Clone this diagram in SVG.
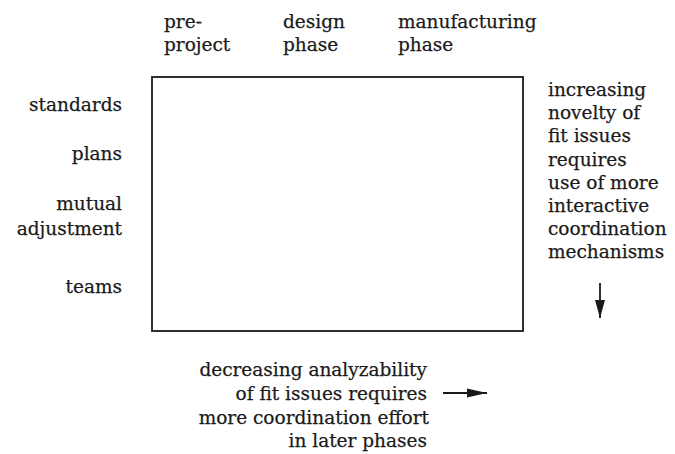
<svg xmlns="http://www.w3.org/2000/svg" width="675" height="454" viewBox="0 0 675 454">
<style>
text{font-family:"DejaVu Serif","Liberation Serif",serif;font-size:18.5px;fill:#1a1a1a;stroke:#1a1a1a;stroke-width:0.25}
.r{text-anchor:end}
.ln{stroke:#1a1a1a;stroke-width:1.8;fill:none}
</style>
<defs>
<marker id="ah" viewBox="0 0 18 11" refX="18" refY="5.5" markerWidth="18" markerHeight="11" markerUnits="userSpaceOnUse" orient="auto">
<path d="M0,0.5 L18,5.5 L0,10.5 Z" fill="#1a1a1a"/>
</marker>
<marker id="ah2" viewBox="0 0 20 10" refX="20" refY="5" markerWidth="20" markerHeight="10" markerUnits="userSpaceOnUse" orient="auto">
<path d="M0,0.5 L20,5 L0,9.5 Z" fill="#1a1a1a"/>
</marker>
</defs>
<g id="matrix">
<rect class="ln" x="152" y="77" width="371" height="254"/>
</g>
<g id="phases">
<text x="164" y="28">pre-</text>
<text x="164" y="51">project</text>
<text x="283" y="28">design</text>
<text x="283" y="51">phase</text>
<text x="398" y="28">manufacturing</text>
<text x="398" y="51">phase</text>
</g>
<g id="mechanisms">
<text class="r" x="122" y="111">standards</text>
<text class="r" x="122" y="160">plans</text>
<text class="r" x="122" y="210">mutual</text>
<text class="r" x="122" y="235">adjustment</text>
<text class="r" x="122" y="293">teams</text>
</g>
<g id="novelty">
<text x="548" y="96">increasing</text>
<text x="548" y="119">novelty of</text>
<text x="548" y="142">fit issues</text>
<text x="548" y="166">requires</text>
<text x="548" y="189">use of more</text>
<text x="548" y="212">interactive</text>
<text x="548" y="235">coordination</text>
<text x="548" y="258">mechanisms</text>
</g>
<g id="analyzability">
<text class="r" x="427" y="376">decreasing analyzability</text>
<text class="r" x="427" y="400">of fit issues requires</text>
<text class="r" x="429" y="424">more coordination effort</text>
<text class="r" x="427" y="447">in later phases</text>
</g>
<g id="connectors">
<line class="ln" x1="600" y1="283" x2="600" y2="318" marker-end="url(#ah)"/>
<line class="ln" x1="443" y1="393" x2="487" y2="393" marker-end="url(#ah2)"/>
</g>
</svg>
